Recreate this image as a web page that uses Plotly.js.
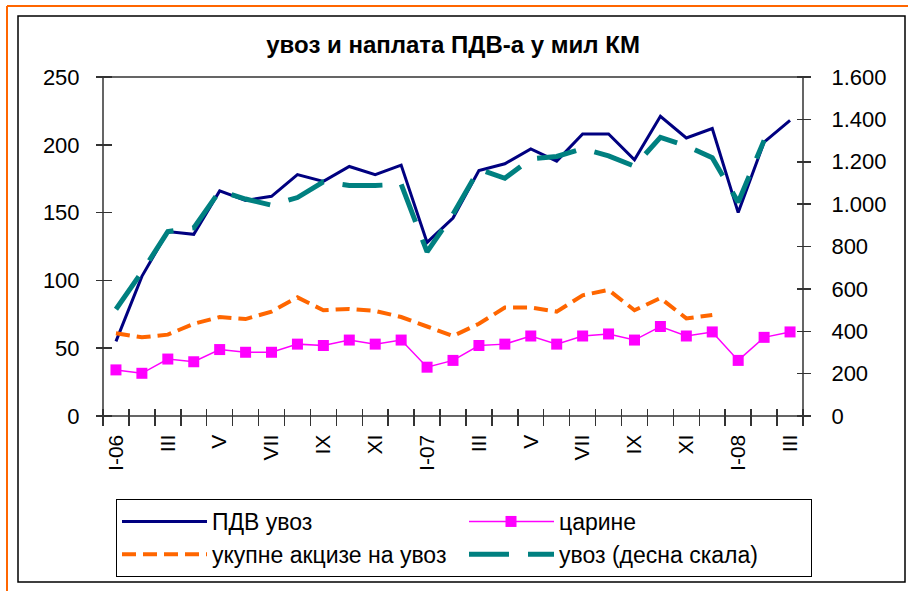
<!DOCTYPE html>
<html>
<head>
<meta charset="utf-8">
<script src="https://cdn.plot.ly/plotly-3.0.1.min.js"></script>
<style>
  html, body { margin: 0; padding: 0; background: #fff; }
  #chart { width: 908px; height: 591px; }
</style>
</head>
<body>
<div id="chart"></div>
<script>
// ---- data ----
const months = ['I-06','II','III','IV','V','VI','VII','VIII','IX','X','XI','XII',
                'I-07','II','III','IV','V','VI','VII','VIII','IX','X','XI','XII',
                'I-08','II','III'];
const pdvUvoz = [55, 103, 136, 134, 166, 159, 162, 178, 173, 184, 178, 185,
                 128, 146, 181, 186, 197, 188, 208, 208, 189, 221, 205, 212,
                 150, 202, 218];
const carine = [34, 31.5, 42, 40, 49, 47, 47, 53, 52, 56, 53, 56,
                36, 41, 52, 53, 59, 53, 59, 60.5, 56, 66, 59, 62,
                41, 58, 62];
const akcize = [61, 58, 60, 68, 73, 71.5, 77, 87.5, 78, 79, 77.5, 73,
                66, 59, 68, 80, 80, 77, 89, 93, 78, 87, 72, 74.5,
                null, null, null];
const uvoz = [504, 680, 870, 888, 1062, 1024, 995, 1031, 1105, 1088, 1088, 1094,
              775, 952, 1165, 1122, 1214, 1225, 1262, 1228, 1179, 1315, 1275, 1219,
              1009, 1301, null];
const seriesNames = ['ПДВ увоз', 'царине', 'укупне акцизе на увоз', 'увоз (десна скала)'];
const titleText = 'увоз и наплата ПДВ-а у мил КМ';

const xIdx = months.map((m, i) => i);
const tickIdx = xIdx.filter(i => i % 2 === 0);
const tickTxt = tickIdx.map(i => months[i]);
const boundaries = xIdx.map(i => i - 0.5).concat([months.length - 0.5]);

const FONT = 'Liberation Sans, Arial, sans-serif';
const W = 908, H = 591, ML = 103, MR = 105, MT = 77, MB = 175;
const PW = W - ML - MR, PH = H - MT - MB;
const px = x => (x - ML) / PW;
const py = y => (H - MB - y) / PH;

const traces = [
  { x: xIdx, y: pdvUvoz, name: seriesNames[0], type: 'scatter', mode: 'lines',
    line: { color: '#000080', width: 3 }, yaxis: 'y' },
  { x: xIdx, y: carine, name: seriesNames[1], type: 'scatter', mode: 'lines+markers',
    line: { color: '#FF00FF', width: 1.5 },
    marker: { symbol: 'square', size: 11, color: '#FF00FF' }, yaxis: 'y' },
  { x: xIdx, y: akcize, name: seriesNames[2], type: 'scatter', mode: 'lines',
    line: { color: '#FF6600', width: 4, dash: '14px,7px' }, yaxis: 'y' },
  { x: xIdx, y: uvoz, name: seriesNames[3], type: 'scatter', mode: 'lines',
    line: { color: '#008080', width: 5, dash: '40px,19px' }, yaxis: 'y2' }
];

const axLine = '#333';
const layout = {
  width: W, height: H,
  margin: { l: ML, r: MR, t: MT, b: MB, pad: 0 },
  paper_bgcolor: '#fff', plot_bgcolor: '#fff',
  separators: ',.',
  font: { family: FONT, color: '#000', size: 20 },
  showlegend: true,
  title: { text: '<b>' + titleText + '</b>', x: 0.499, xanchor: 'center',
           y: 1 - 45 / H, yanchor: 'middle', font: { family: FONT, size: 24, color: '#000' } },
  xaxis: {
    range: [-0.5, 26.5], tickmode: 'array', tickvals: tickIdx, ticktext: tickTxt,
    anchor: 'free', position: 8.5 / PH,
    tickangle: -90, ticks: '', showgrid: false, zeroline: false, showline: false,
    minor: { tickmode: 'array', tickvals: boundaries, ticks: 'outside', ticklen: 17,
             tickcolor: axLine, tickwidth: 1.5, showgrid: false },
    tickfont: { family: FONT, size: 21, color: '#000' }, ticklabelstandoff: 22
  },
  yaxis: {
    range: [0, 250], tickmode: 'linear', tick0: 0, dtick: 50,
    anchor: 'free', position: 9 / PW,
    ticks: 'outside', ticklen: 16, tickcolor: axLine, tickwidth: 1.5,
    showgrid: false, zeroline: false, showline: false,
    tickfont: { family: FONT, size: 22, color: '#000' }, ticklabelstandoff: 12
  },
  yaxis2: {
    overlaying: 'y', side: 'right', anchor: 'free', position: 1 - 7 / PW,
    range: [0, 1600], tickmode: 'linear', tick0: 0, dtick: 200,
    tickformat: ',d',
    ticks: 'outside', ticklen: 14, tickcolor: axLine, tickwidth: 1.5,
    showgrid: false, zeroline: false, showline: false,
    tickfont: { family: FONT, size: 22, color: '#000' }, ticklabelstandoff: 16
  },
  legend: {
    orientation: 'h', x: px(116), xanchor: 'left', y: py(499), yanchor: 'top',
    bordercolor: '#000', borderwidth: 1, bgcolor: '#fff',
    font: { family: FONT, size: 23, color: '#000' },
    entrywidth: 247, itemwidth: 85, traceorder: 'normal', tracegroupgap: 0
  },
  shapes: [
    // plot-area frame (axis lines)
    { type: 'rect', xref: 'paper', yref: 'paper', x0: 0, x1: 1, y0: 0, y1: 1,
      line: { color: axLine, width: 1.5 } },
    // chart frame
    { type: 'rect', xref: 'paper', yref: 'paper', x0: px(18), x1: px(905), y0: py(582), y1: py(16),
      line: { color: '#000', width: 1.5 }, layer: 'below' },
    // outer orange border
    { type: 'line', xref: 'paper', yref: 'paper', x0: px(7), x1: px(930), y0: py(6), y1: py(6),
      line: { color: '#FF6600', width: 2 } },
    { type: 'line', xref: 'paper', yref: 'paper', x0: px(7), x1: px(7), y0: py(610), y1: py(6),
      line: { color: '#FF6600', width: 2 } }
  ]
};

Plotly.newPlot('chart', traces, layout, { displayModeBar: false, staticPlot: true }).then(gd => {
  // lengthen legend line symbols to match the reference's long swatches
  gd.querySelectorAll('.legend .legendlines path').forEach(p => p.setAttribute('d', 'M5,0h85'));
  gd.querySelectorAll('.legend .legendpoints path').forEach(p => p.setAttribute('transform', 'translate(47,0)'));
});
</script>
</body>
</html>
